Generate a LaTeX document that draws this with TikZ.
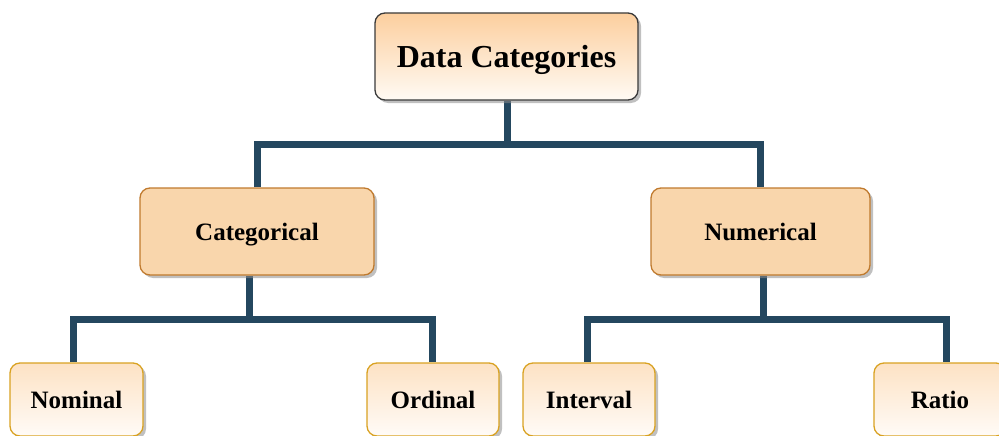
\documentclass[tikz,border=0pt]{standalone}
\usepackage{fontspec}
\setmainfont{Liberation Serif}
\usetikzlibrary{shadows,backgrounds}

\definecolor{linkblue}{HTML}{24475F}
\definecolor{rootedge}{HTML}{3A3A3A}
\definecolor{roottop}{HTML}{FCCF9E}
\definecolor{rootbot}{HTML}{FFFAF4}
\definecolor{midfill}{HTML}{F9D6AC}
\definecolor{midedge}{HTML}{C07A2E}
\definecolor{leafedge}{HTML}{D9A222}
\definecolor{leaftop}{HTML}{FDE2C4}
\definecolor{leafbot}{HTML}{FFFBF7}

\tikzset{
  boxbase/.style={rounded corners=10pt, line width=1.3pt, inner sep=0pt,
    text depth=0pt, font=\bfseries\fontsize{25}{29}\selectfont,
    drop shadow={shadow xshift=3pt, shadow yshift=-3pt, fill=black!45, opacity=0.55}},
  rootbox/.style={boxbase, draw=rootedge, top color=roottop, bottom color=rootbot,
    minimum width=263pt, minimum height=87pt, font=\bfseries\fontsize{32}{37}\selectfont},
  midbox/.style={boxbase, draw=midedge, fill=midfill, minimum height=87pt},
  leafbox/.style={boxbase, draw=leafedge, top color=leaftop, bottom color=leafbot,
    minimum width=132pt, minimum height=73pt},
  link/.style={draw=linkblue, line width=7pt, line join=miter}
}

\begin{document}
\begin{tikzpicture}[x=1pt,y=-1pt]
\useasboundingbox (0,0) rectangle (999,436);

% boxes
\node[rootbox] (root) at (506.5,56.5) {Data Categories};
\node[midbox, minimum width=234pt] (cat) at (257,231.5) {Categorical};
\node[midbox, minimum width=219pt] (num) at (760.5,231.5) {Numerical};
\node[leafbox, minimum width=133pt] (nom) at (76.5,399.5) {Nominal};
\node[leafbox] (ord) at (433,399.5) {Ordinal};
\node[leafbox] (int) at (589,399.5) {Interval};
\node[leafbox] (rat) at (940,399.5) {Ratio};

% junction points of the connectors
\coordinate (j1) at (507,144);
\coordinate (j2) at (249.5,319.5);
\coordinate (j2l) at (73.5,319.5);
\coordinate (j2r) at (432.5,319.5);
\coordinate (j3) at (763.2,319.5);
\coordinate (j3l) at (587.5,319.5);
\coordinate (j3r) at (946.3,319.5);

\begin{pgfonlayer}{background}
  \draw[link] (root.south -| j1) -- (j1);
  \draw[link] (cat.north) |- (j1) -| (num.north);
  \draw[link] (cat.south -| j2) -- (j2);
  \draw[link] (nom.north -| j2l) -- (j2l) -- (j2r) -- (ord.north -| j2r);
  \draw[link] (num.south -| j3) -- (j3);
  \draw[link] (int.north -| j3l) -- (j3l) -- (j3r) -- (rat.north -| j3r);
\end{pgfonlayer}
\end{tikzpicture}
\end{document}
